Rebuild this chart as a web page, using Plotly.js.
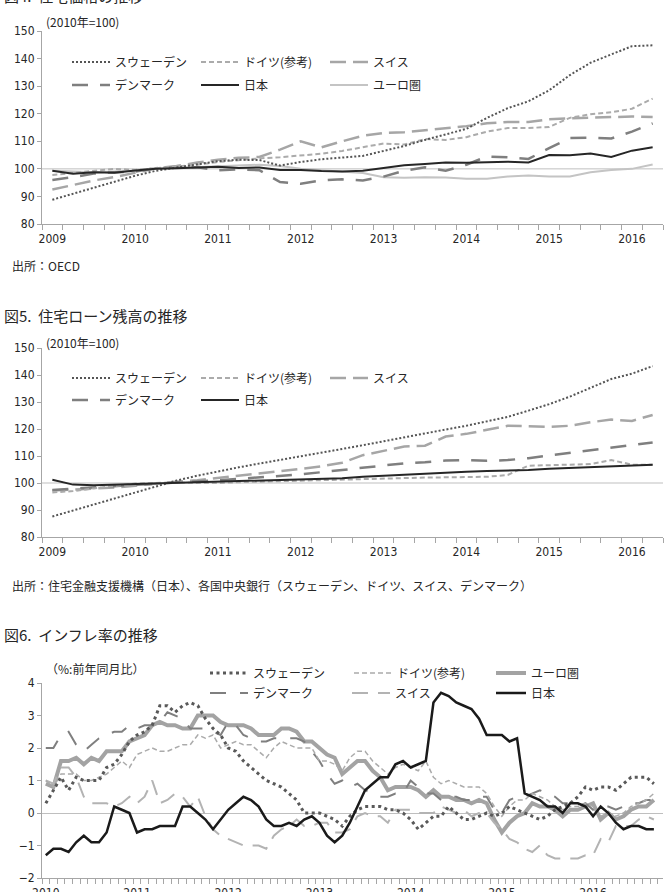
<!DOCTYPE html>
<html><head><meta charset="utf-8">
<script src="https://cdn.plot.ly/plotly-3.0.1.min.js"></script>
<style>html,body{margin:0;padding:0;background:#fff}</style>
</head><body><div id="chart" style="width:664px;height:892px"></div>
<script>
// ---------- tick labels ----------
const yearsQ = ['2009','2010','2011','2012','2013','2014','2015','2016'];
const yearsM = ['2010','2011','2012','2013','2014','2015','2016'];

// ---------- Fig.4 house prices (2010=100), quarterly 2009Q1-2016Q2 ----------
const hpSweden  = [88.8,91.0,93.2,95.5,97.5,99.3,100.5,101.8,102.8,103.3,103.2,101.2,102.5,103.5,104.0,104.7,106.5,108.3,110.5,112.5,114.5,118.5,122.0,124.5,128.5,134.0,138.5,141.5,144.5,144.8];
const hpGermany = [97.8,98.5,99.3,100.0,99.6,100.2,100.8,101.5,102.5,103.2,103.8,104.2,104.8,105.5,106.5,107.8,109.2,108.8,110.8,110.5,111.5,113.5,114.8,114.8,115.2,118.5,119.8,120.5,121.8,125.5];
const hpSwiss   = [92.5,94.2,95.8,97.0,98.5,100.2,101.0,102.3,103.3,104.0,104.3,107.0,110.0,107.8,110.0,112.0,113.0,113.3,114.0,114.7,115.5,116.5,117.0,117.0,118.0,118.3,118.5,118.7,119.0,118.8];
const hpDenmark = [96.0,97.0,98.3,98.8,99.0,100.3,100.5,100.6,99.5,99.8,99.5,95.2,94.6,95.8,96.2,95.8,97.2,99.3,100.6,99.3,101.5,104.5,104.2,103.6,107.5,111.2,111.3,111.0,113.5,116.5];
const hpJapan   = [99.3,98.2,98.8,98.6,99.4,100.0,100.2,100.5,100.8,100.3,100.5,99.6,99.6,99.2,99.0,99.3,100.3,101.3,101.8,102.3,102.2,102.3,102.6,102.3,105.0,104.9,105.6,104.3,106.6,107.8];
const hpEuro    = [99.3,99.0,98.8,99.0,99.3,100.0,100.3,100.5,100.8,101.3,101.5,101.0,100.0,99.5,99.0,98.5,97.0,96.8,97.0,96.9,96.4,96.4,97.2,97.6,97.2,97.2,98.8,99.6,100.0,101.6];

// ---------- Fig.5 mortgage balances (2010=100), quarterly ----------
const mlSweden  = [87.6,89.8,92.0,94.3,96.5,98.7,100.9,102.7,104.3,105.8,107.2,108.5,109.8,111.2,112.6,114.0,115.5,117.0,118.4,119.8,121.2,122.8,124.5,126.8,129.2,132.0,135.3,138.5,140.5,143.3];
const mlGermany = [96.5,97.0,98.0,99.0,99.8,100.0,100.2,100.0,100.0,100.3,100.5,100.8,101.0,101.2,101.4,101.6,101.8,102.0,102.0,102.1,102.2,102.3,103.0,106.4,106.6,106.8,107.0,108.5,106.8,106.8];
const mlSwiss   = [97.2,97.5,97.8,98.3,99.0,99.8,100.5,101.0,101.8,102.7,103.5,104.3,105.2,106.2,107.5,110.3,112.0,113.5,113.8,117.2,118.2,119.7,121.2,121.0,120.8,121.2,122.5,123.5,123.0,125.2];
const mlDenmark = [97.4,97.8,98.2,98.8,99.3,99.8,100.2,100.6,101.0,101.5,102.0,102.6,103.2,104.0,104.8,105.8,106.6,107.3,107.7,108.3,108.5,108.2,108.5,109.2,110.2,111.2,112.2,113.2,114.0,115.0];
const mlJapan   = [101.2,99.4,99.2,99.4,99.7,99.9,100.1,100.3,100.5,100.7,100.9,101.2,101.4,101.6,101.8,102.3,102.7,103.0,103.4,103.8,104.2,104.4,104.5,104.8,105.3,105.6,106.0,106.3,106.6,106.8];

// ---------- Fig.6 inflation (% y/y), monthly 2010/01-2016/09 ----------
const cpiSweden  = [0.3,0.7,1.1,0.7,1.1,1.0,1.0,1.0,1.4,1.5,1.8,2.2, 2.4,2.5,2.7,3.3,3.3,3.1,3.3,3.4,3.3,2.9,2.6,2.4, 2.0,1.9,1.6,1.4,1.2,1.0,0.9,0.8,0.6,0.4,0.0,0.0, 0.0,-0.1,-0.2,-0.4,-0.1,0.1,0.2,0.2,0.2,0.1,0.1,0.0, -0.2,-0.5,-0.3,-0.1,-0.1,0.2,0.0,-0.2,-0.2,-0.1,0.0,-0.1, 0.0,0.2,0.1,0.0,-0.1,-0.2,-0.1,0.1,0.2,0.3,0.5,0.8, 0.7,0.8,0.8,0.7,0.9,1.1,1.1,1.1,0.9];
const cpiGermany = [1.0,0.8,1.2,1.2,1.2,1.0,1.0,1.1,1.2,1.4,1.6,1.4, 1.8,1.9,2.0,1.9,1.9,2.0,2.1,2.1,2.4,2.3,2.4,2.0, 2.1,2.2,2.1,2.1,1.9,1.7,2.0,2.2,2.1,2.0,2.0,2.0, 1.6,1.6,1.5,1.3,1.7,1.9,1.9,1.6,1.4,1.2,1.4,1.5, 1.4,1.3,1.6,1.1,0.9,1.0,0.9,0.8,0.8,0.8,0.6,0.2, -0.1,0.2,0.4,0.4,0.6,0.5,0.4,0.2,0.1,0.2,0.2,0.3, 0.2,-0.1,0.0,-0.1,0.0,0.2,0.3,0.4,0.6];
const cpiEuro    = [0.9,0.8,1.6,1.6,1.7,1.5,1.7,1.6,1.9,1.9,1.9,2.2, 2.3,2.4,2.7,2.8,2.7,2.7,2.6,2.6,3.0,3.0,3.0,2.8, 2.7,2.7,2.7,2.6,2.4,2.4,2.4,2.6,2.6,2.5,2.2,2.2, 2.0,1.8,1.7,1.2,1.4,1.6,1.6,1.3,1.1,0.7,0.8,0.8, 0.8,0.7,0.5,0.7,0.5,0.5,0.4,0.4,0.3,0.4,0.3,-0.2, -0.6,-0.3,-0.1,0.0,0.3,0.2,0.2,0.1,-0.1,0.1,0.1,0.2, 0.3,-0.2,0.0,-0.2,-0.1,0.1,0.2,0.2,0.4];
const cpiDenmark = [2.0,2.0,2.4,2.5,2.1,1.9,2.1,2.3,2.4,2.5,2.5,2.7, 2.6,2.7,2.7,2.8,3.1,3.0,2.9,2.6,2.6,2.6,2.5,2.4, 2.8,2.7,2.4,2.3,2.2,2.2,2.3,2.3,2.3,2.3,2.2,1.9, 1.6,1.2,0.9,1.0,0.8,0.9,0.7,0.6,0.5,0.5,0.6,0.6, 1.0,0.8,0.6,0.6,0.4,0.5,0.5,0.4,0.4,0.5,0.5,0.1, 0.0,0.4,0.5,0.5,0.6,0.7,0.6,0.5,0.3,0.3,0.2,0.3, 0.1,0.2,0.2,0.1,0.2,0.3,0.3,0.4,0.4];
const cpiSwiss   = [1.0,0.9,1.4,1.4,1.1,0.5,0.3,0.3,0.3,0.2,0.3,0.5, 0.3,0.5,1.0,0.3,0.4,0.6,0.5,0.2,0.5,-0.1,-0.5,-0.7, -0.8,-0.9,-1.0,-1.0,-1.0,-1.1,-0.7,-0.5,-0.4,-0.2,-0.4,-0.4, -0.3,-0.3,-0.6,-0.6,-0.5,-0.1,0.0,-0.1,-0.1,-0.3,0.1,0.1, 0.1,0.0,0.0,0.0,0.2,0.1,0.0,0.1,-0.1,0.0,0.0,-0.3, -0.5,-0.8,-0.9,-1.1,-1.2,-1.0,-1.3,-1.4,-1.4,-1.4,-1.4,-1.3, -1.3,-0.8,-0.9,-0.4,-0.4,-0.4,-0.2,-0.1,-0.2];
const cpiJapan   = [-1.3,-1.1,-1.1,-1.2,-0.9,-0.7,-0.9,-0.9,-0.6,0.2,0.1,0.0, -0.6,-0.5,-0.5,-0.4,-0.4,-0.4,0.2,0.2,0.0,-0.2,-0.5,-0.2, 0.1,0.3,0.5,0.4,0.2,-0.2,-0.4,-0.4,-0.3,-0.4,-0.2,-0.1, -0.3,-0.7,-0.9,-0.7,-0.3,0.2,0.7,0.9,1.1,1.1,1.5,1.6, 1.4,1.5,1.6,3.4,3.7,3.6,3.4,3.3,3.2,2.9,2.4,2.4, 2.4,2.2,2.3,0.6,0.5,0.4,0.2,0.2,0.0,0.3,0.3,0.2, -0.1,0.2,0.0,-0.3,-0.5,-0.4,-0.4,-0.5,-0.5];

// ---------- layout helpers ----------
const W = 664, H = 892, ML = 42, MR = 1, PW = W - ML - MR;
const px2x = p => (p - ML) / PW;
const px2y = p => 1 - p / H;
const CJK = '"Noto Sans CJK JP", "Noto Sans", sans-serif';
const NUM = '"Liberation Sans Narrow", "DejaVu Sans Condensed", "Noto Sans CJK JP", sans-serif';
const AX = '#a6a6a6', TXT = '#262626';

const idx = arr => arr.map((_, i) => i);

const traces = [];
const legends = {};
let legendCount = 0;
function addTrace(y, name, xa, ya, line, lx, ly, iw) {
  legendCount++;
  const lid = legendCount === 1 ? 'legend' : 'legend' + legendCount;
  traces.push({type:'scatter', mode:'lines', x: idx(y), y: y, name: name,
    xaxis: xa, yaxis: ya, line: line, legend: lid, hoverinfo:'skip', showlegend:true});
  legends[lid] = {x: px2x(lx - 5), y: px2y(ly), xref:'paper', yref:'paper',
    xanchor:'left', yanchor:'middle', itemwidth: iw || 38, bgcolor:'rgba(0,0,0,0)',
    borderwidth:0, font:{family:CJK, size:12, color:TXT}, itemclick:false, itemdoubleclick:false};
}

// styles
const sSwe = {color:'#555555', width:2, dash:'2px,2px'};
const sGer = {color:'#ababab', width:2, dash:'5px,3px'};
const sSwi = {color:'#a6a6a6', width:2.5, dash:'16px,7px'};
const sDen = {color:'#7f7f7f', width:2.5, dash:'16px,12px'};
const sJpn = {color:'#262626', width:2};
const sEur = {color:'#c4c4c4', width:2};

// Fig.4
addTrace(hpEuro,   'ユーロ圏',   'x','y', sEur, 330, 85);
addTrace(hpSwiss,  'スイス',     'x','y', sSwi, 330, 62);
addTrace(hpDenmark,'デンマーク', 'x','y', sDen, 72, 85);
addTrace(hpGermany,'ドイツ(参考)','x','y', sGer, 201, 62);
addTrace(hpSweden, 'スウェーデン','x','y', sSwe, 72, 62);
addTrace(hpJapan,  '日本',       'x','y', sJpn, 201, 85);
// Fig.5
addTrace(mlSwiss,  'スイス',     'x2','y2', sSwi, 330, 378);
addTrace(mlDenmark,'デンマーク', 'x2','y2', sDen, 72, 400);
addTrace(mlGermany,'ドイツ(参考)','x2','y2', sGer, 201, 378);
addTrace(mlSweden, 'スウェーデン','x2','y2', sSwe, 72, 378);
addTrace(mlJapan,  '日本',       'x2','y2', sJpn, 201, 400);
// Fig.6
addTrace(cpiEuro,   'ユーロ圏',   'x3','y3', {color:'#a3a3a3', width:4}, 496, 673, 30);
addTrace(cpiSwiss,  'スイス',     'x3','y3', {color:'#b3b3b3', width:2, dash:'16px,10px'}, 352, 693);
addTrace(cpiDenmark,'デンマーク', 'x3','y3', {color:'#7f7f7f', width:2, dash:'16px,14px'}, 210, 693);
addTrace(cpiGermany,'ドイツ(参考)','x3','y3', {color:'#ababab', width:1.5, dash:'5px,3px'}, 354, 673);
addTrace(cpiSweden, 'スウェーデン','x3','y3', {color:'#595959', width:3, dash:'3px,3.5px'}, 210, 673);
addTrace(cpiJapan,  '日本',       'x3','y3', {color:'#1a1a1a', width:2.5}, 496, 693, 30);

// empty helper traces so the label-only overlay axes exist
[['x4','y'],['x5','y2'],['x6','y3']].forEach(([xa, ya]) => {
  traces.push({type:'scatter', mode:'lines', x:[], y:[], xaxis:xa, yaxis:ya, showlegend:false, hoverinfo:'skip'});
});

// axis with tick marks on category boundaries (no labels)
function xTickAxis(n, anchor, rangeMax) {
  const b = []; for (let i = 0; i <= n; i++) b.push(i - 0.5);
  return {anchor: anchor, range:[-0.5, rangeMax], tickmode:'array', tickvals: b,
    ticktext: b.map(() => ''), ticks:'outside', ticklen:5, tickcolor:AX, tickwidth:1,
    showline:true, linecolor:AX, linewidth:1, showgrid:false, zeroline:false, fixedrange:true};
}
// overlay axis carrying the year labels at category centres
function xLabelAxis(over, labels, per, anchor, rangeMax, standoff) {
  return {overlaying: over, anchor: anchor, side:'bottom', range:[-0.5, rangeMax], tickmode:'array',
    tickvals: labels.map((_, i) => i * per), ticktext: labels, ticks:'',
    showline:false, showgrid:false, zeroline:false,
    tickfont:{family:NUM, size:12, color:TXT}, ticklabelstandoff: standoff, fixedrange:true};
}
function yAxis(dom, range, dtick, anchor, zl) {
  return {domain: dom, anchor: anchor, range: range, dtick: dtick, tick0: 0, ticks:'outside', ticklen:4,
    tickcolor:AX, showline:true, linecolor:AX, linewidth:1, showgrid:false,
    zeroline: !!zl, zerolinecolor:'#bfbfbf', zerolinewidth:1,
    tickfont:{family:NUM, size:12, color:TXT}, fixedrange:true};
}

function ann(text, xpx, ypx, size, anchor) {
  return {text: text, x: px2x(xpx), y: px2y(ypx), xref:'paper', yref:'paper',
    xanchor:'left', yanchor: anchor || 'middle', showarrow:false,
    font:{family:CJK, size:size, color:TXT}};
}

const nQ = hpJapan.length, nM = cpiJapan.length;
const layout = {
  width: W, height: H, margin:{l:ML, r:MR, t:0, b:0},
  paper_bgcolor:'#ffffff', plot_bgcolor:'#ffffff', showlegend:true,
  xaxis:  xTickAxis(nQ, 'y', nQ - 0.5),
  yaxis:  yAxis([px2y(224), px2y(31)], [80,150], 10, 'x'),
  xaxis2: xTickAxis(nQ, 'y2', nQ - 0.5),
  yaxis2: yAxis([px2y(537), px2y(348)], [80,150], 10, 'x2'),
  xaxis3: xTickAxis(nM, 'y3', nM + 0.2),
  yaxis3: yAxis([px2y(878), px2y(683)], [-2,4], 1, 'x3', true),
  xaxis4: xLabelAxis('x',  yearsQ, 4,  'y',  nQ - 0.5, 6),
  xaxis5: xLabelAxis('x2', yearsQ, 4,  'y2', nQ - 0.5, 6),
  xaxis6: xLabelAxis('x3', yearsM, 12, 'y3', nM + 0.2, 6),
  shapes: [
    {type:'line', xref:'x domain', yref:'y', x0:0, x1:1, y0:100, y1:100, line:{color:'#bfbfbf', width:1}, layer:'below'},
    {type:'line', xref:'x2 domain', yref:'y2', x0:0, x1:1, y0:100, y1:100, line:{color:'#bfbfbf', width:1}, layer:'below'}
  ],
  annotations: [
    ann('図4.  住宅価格の推移', 2, 8, 15, 'bottom'),
    ann('(2010年=100)', 44, 21, 12),
    ann('出所：OECD', 10, 265, 12),
    ann('図5.  住宅ローン残高の推移', 2, 315, 15),
    ann('(2010年=100)', 44, 342, 12),
    ann('出所：住宅金融支援機構（日本）、各国中央銀行（スウェーデン、ドイツ、スイス、デンマーク）', 10, 585, 12),
    ann('図6.  インフレ率の推移', 2, 634, 15),
    ann('（%:前年同月比）', 44, 668, 12)
  ]
};
Object.assign(layout, legends);

Plotly.newPlot('chart', traces, layout, {staticPlot:true, displayModeBar:false});
</script></body></html>
